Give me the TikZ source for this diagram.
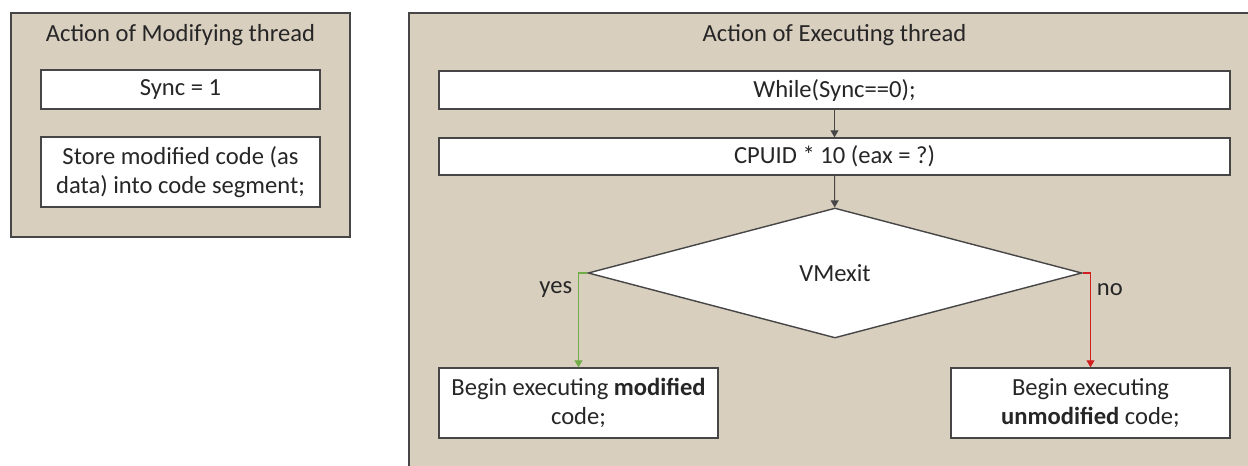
\documentclass[tikz,border=0pt]{standalone}
\usepackage{fontspec}
\setmainfont{Carlito}
\usetikzlibrary{arrows.meta,shapes.geometric}
\definecolor{panelbg}{RGB}{217,207,191}
\definecolor{linegray}{RGB}{70,70,70}
\definecolor{yesgreen}{RGB}{112,173,71}
\definecolor{nored}{RGB}{210,30,30}

\begin{document}
\begin{tikzpicture}[x=0.02cm,y=-0.02cm,
    font=\fontsize{14}{16.5}\selectfont,text=black!85]
    \clip (0,0) rectangle (1248,466);

    % thread panels
    \begin{scope}[every node/.style={rectangle,draw=linegray,line width=0.8pt,fill=panelbg,inner sep=0pt}]
      \node[minimum width=6.78cm,minimum height=4.48cm] (modpanel) at (180.5,125) {};
      \node[minimum width=16.98cm,minimum height=9.26cm] (execpanel) at (833.5,244.5) {};
    \end{scope}
    \node (modtitle) at (180.5,35) {Action of Modifying thread};
    \node (exectitle) at (834.5,35) {Action of Executing thread};

    \begin{scope}[every node/.style={rectangle,draw=linegray,line width=0.8pt,fill=white,align=center,inner sep=2pt}]
      \node[minimum width=5.58cm,minimum height=0.78cm] (sync) at (180.5,89.5) {Sync = 1};
      \node[minimum width=5.58cm,minimum height=1.4cm] (store) at (180.5,172) {Store modified code (as\\data) into code segment;};
      \node[minimum width=15.82cm,minimum height=0.76cm] (while) at (834.5,90) {While(Sync==0);};
      \node[minimum width=15.82cm,minimum height=0.74cm] (cpuid) at (834.5,156.5) {CPUID * 10 (eax = ?)};
      \node[diamond,inner sep=0pt,minimum width=9.88cm,minimum height=2.6cm] (vmexit) at (835,273) {VMexit};
      \node[minimum width=5.58cm,minimum height=1.4cm] (modcode) at (578.5,403) {Begin executing \textbf{modified}\\code;};
      \node[minimum width=5.58cm,minimum height=1.4cm] (unmodcode) at (1090.5,403) {Begin executing\\\textbf{unmodified} code;};
    \end{scope}

    \begin{scope}[>={Triangle[width=0.16cm,length=0.14cm]},
        every edge/.style={draw=linegray,line width=0.6pt}]
      \path [->] (while) edge (cpuid);
      \path [->] (cpuid) edge (vmexit);
      \draw [->,yesgreen,line width=0.6pt] (vmexit.west) -| node[pos=0.59,left,text=black!85] {yes} (modcode.north);
      \draw [->,nored,line width=0.6pt] (vmexit.east) -| node[pos=0.59,right,text=black!85] {no} (unmodcode.north);
    \end{scope}
  \end{tikzpicture}
\end{document}
